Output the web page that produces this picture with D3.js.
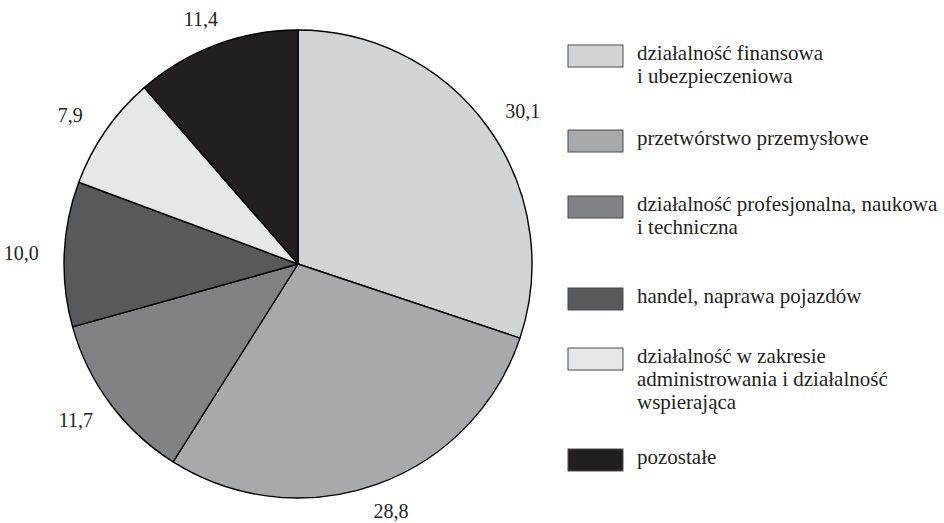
<!DOCTYPE html>
<html>
<head>
<meta charset="utf-8">
<script src="https://cdn.jsdelivr.net/npm/d3@7"></script>
<style>
  html, body { margin: 0; padding: 0; background: #fff; }
  #wrap { position: relative; width: 944px; height: 523px; overflow: hidden; }
  svg { display: block; position: absolute; left: 0; top: 0; }
  .lbl, .legtxt {
    position: absolute;
    font-family: "Liberation Serif", "Times New Roman", Tinos, serif;
    color: #231f20;
    white-space: nowrap;
  }
  .lbl { font-size: 20px; line-height: 20px; transform: translate(-50%, -50%); }
  .legtxt { font-size: 21px; line-height: 23px; }
</style>
</head>
<body>
<div id="wrap"><svg id="chart" width="944" height="523"></svg></div>
<script>
// ---- data ----
const categories = [
  ["działalność finansowa", "i ubezpieczeniowa"],
  ["przetwórstwo przemysłowe"],
  ["działalność profesjonalna, naukowa", "i techniczna"],
  ["handel, naprawa pojazdów"],
  ["działalność w zakresie", "administrowania i działalność", "wspierająca"],
  ["pozostałe"]
];
const values = [30.1, 28.8, 11.7, 10.0, 7.9, 11.4];
const valueLabels = ["30,1", "28,8", "11,7", "10,0", "7,9", "11,4"];
const colors = ["#d1d3d4", "#a7a9ac", "#808285", "#58595b", "#e6e7e8", "#231f20"];

// ---- layout ----
const cx = 298, cy = 264, radius = 234;
const labelRx = 277, labelRy = 262;
const legendX = 568, legendTextX = 637;
const legendTops = [45, 130, 196, 288, 348, 449];

const wrap = d3.select("#wrap");
const svg = d3.select("#chart");
const g = svg.append("g").attr("transform", `translate(${cx},${cy})`);

const pie = d3.pie().sort(null).value(d => d);
const arcs = pie(values);
const arc = d3.arc().innerRadius(0).outerRadius(radius);
const unitArc = d3.arc().innerRadius(1).outerRadius(1);

g.selectAll("path.slice")
  .data(arcs)
  .join("path")
  .attr("class", "slice")
  .attr("d", arc)
  .attr("fill", (d, i) => colors[i])
  .attr("stroke", "#000")
  .attr("stroke-width", 1.4)
  .attr("stroke-linejoin", "round");

// value labels (HTML text positioned from the arc centroids)
wrap.selectAll("div.lbl")
  .data(arcs)
  .join("div")
  .attr("class", "lbl")
  .style("left", d => (cx + unitArc.centroid(d)[0] * labelRx) + "px")
  .style("top", d => (cy + unitArc.centroid(d)[1] * labelRy) + "px")
  .text((d, i) => valueLabels[i]);

// ---- legend ----
svg.append("g").selectAll("rect")
  .data(categories)
  .join("rect")
  .attr("x", legendX)
  .attr("y", (d, i) => legendTops[i])
  .attr("width", 55)
  .attr("height", 22)
  .attr("fill", (d, i) => colors[i])
  .attr("stroke", "#4d4d4f")
  .attr("stroke-width", 1);

wrap.selectAll("div.legtxt")
  .data(categories)
  .join("div")
  .attr("class", "legtxt")
  .style("left", legendTextX + "px")
  .style("top", (d, i) => (legendTops[i] - 3) + "px")
  .html(d => d.join("<br>"));
</script>
</body>
</html>
